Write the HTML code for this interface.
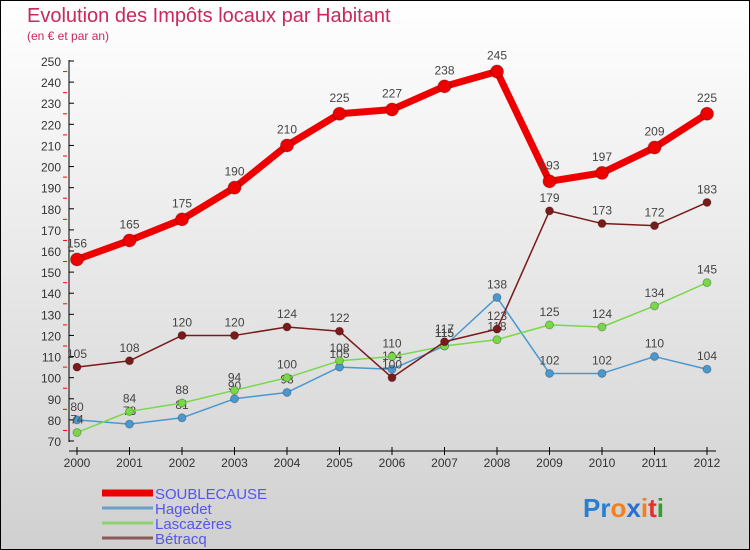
<!DOCTYPE html>
<html><head><meta charset="utf-8"><style>
body{margin:0}
#wrap{position:relative;width:750px;height:550px;background:linear-gradient(#ffffff,#d0d0d0);box-sizing:border-box;border:1px solid #000;overflow:hidden;font-family:"Liberation Sans",sans-serif}
#title{position:absolute;left:26px;top:4px;font-size:20px;color:#c8285a;font-weight:normal}
#sub{position:absolute;left:26px;top:28px;font-size:12px;color:#c8285a}
svg{position:absolute;left:0;top:0}
</style></head><body>
<div id="wrap">
<div id="title">Evolution des Impôts locaux par Habitant</div>
<div id="sub">(en € et par an)</div>
<svg id="c" width="750" height="550"></svg>
</div>
<script>
const years=[2000,2001,2002,2003,2004,2005,2006,2007,2008,2009,2010,2011,2012];
const soublecause=[156,165,175,190,210,225,227,238,245,193,197,209,225];
const hagedet=[80,78,81,90,93,105,104,115,138,102,102,110,104];
const lascazeres=[74,84,88,94,100,108,110,115,118,125,124,134,145];
const betracq=[105,108,120,120,124,122,100,117,123,179,173,172,183];
const yTicks=[70,80,90,100,110,120,130,140,150,160,170,180,190,200,210,220,230,240,250];
const legendNames=["SOUBLECAUSE","Hagedet","Lascazères","Bétracq"];
const NS="http://www.w3.org/2000/svg";
const svg=document.getElementById('c');
const x=i=>76+i*52.5;
const y=v=>440-(v-70)*(380/180);
function mk(t,a,p){const e=document.createElementNS(NS,t);for(const k in a)e.setAttribute(k,a[k]);(p||svg).appendChild(e);return e;}
let ax=mk('line',{x1:68,y1:59,x2:68,y2:441,stroke:'#000','stroke-width':1});


let bx=mk('line',{x1:68,y1:450,x2:715,y2:450,stroke:'#000','stroke-width':1});


yTicks.forEach((v,i)=>{
 mk('line',{x1:68,y1:y(v),x2:73,y2:y(v),stroke:'#000'});
 if(i<yTicks.length-1)mk('line',{x1:62,y1:y(v+5),x2:66,y2:y(v+5),stroke:'#f00'});
 const t=mk('text',{x:60,y:y(v)+5,'text-anchor':'end','font-size':12,fill:'#333'});t.textContent=v;
 
 
});
years.forEach((yr,i)=>{
 mk('line',{x1:x(i),y1:446,x2:x(i),y2:454,stroke:'#000'});
 const t=mk('text',{x:x(i),y:466,'text-anchor':'middle','font-size':12,fill:'#333'});t.textContent=yr;
 
 
});
function series(data,color,w,r,name,off){
 const g=mk('g',{});
 
 
 mk('polyline',{points:data.map((v,i)=>x(i)+','+y(v)).join(' '),fill:'none',stroke:color,'stroke-width':w,'stroke-linejoin':'round'},g);
 data.forEach((v,i)=>{
  const c=mk('circle',{cx:x(i),cy:y(v),r:r,fill:color,stroke:'rgba(0,0,0,0.25)'},g);
  
  
  const t=mk('text',{x:x(i),y:y(v)-off,'text-anchor':'middle','font-size':12,fill:'#444'},g);t.textContent=v;
 });
}
series(hagedet,'#4a98d0',1.5,4,'series-hagedet',9);
series(lascazeres,'#78d848',1.5,4,'series-lascazeres',9);
series(betracq,'#7a1a1a',1.5,4,'series-betracq',9);
series(soublecause,'#ee0000',7,6.5,'series-soublecause',12);
const lc=['#ee0000','#6aa0c8','#90d070','#8a5a5a'],lw=[7,3,3,3];
legendNames.forEach((n,i)=>{
 const yy=492+i*15;
 mk('line',{x1:101,y1:yy,x2:152,y2:yy,stroke:lc[i],'stroke-width':lw[i]});
 const t=mk('text',{x:154,y:yy+6,'font-size':15,fill:'#5555ee','textLength':i==0?112:null});t.textContent=n;
 if(i!=0)t.removeAttribute('textLength');
 
 
});
const logo=mk('text',{x:582,y:516,'font-size':26,'font-weight':'bold'});


[['P','#2a7ed0'],['r','#2a7ed0'],['o','#f08020'],['x','#2a6ed0'],['i','#f08020'],['t','#e03030'],['i','#30a030']].forEach(([c,col])=>{const s=mk('tspan',{fill:col},logo);s.textContent=c;});
</script>
</body></html>
